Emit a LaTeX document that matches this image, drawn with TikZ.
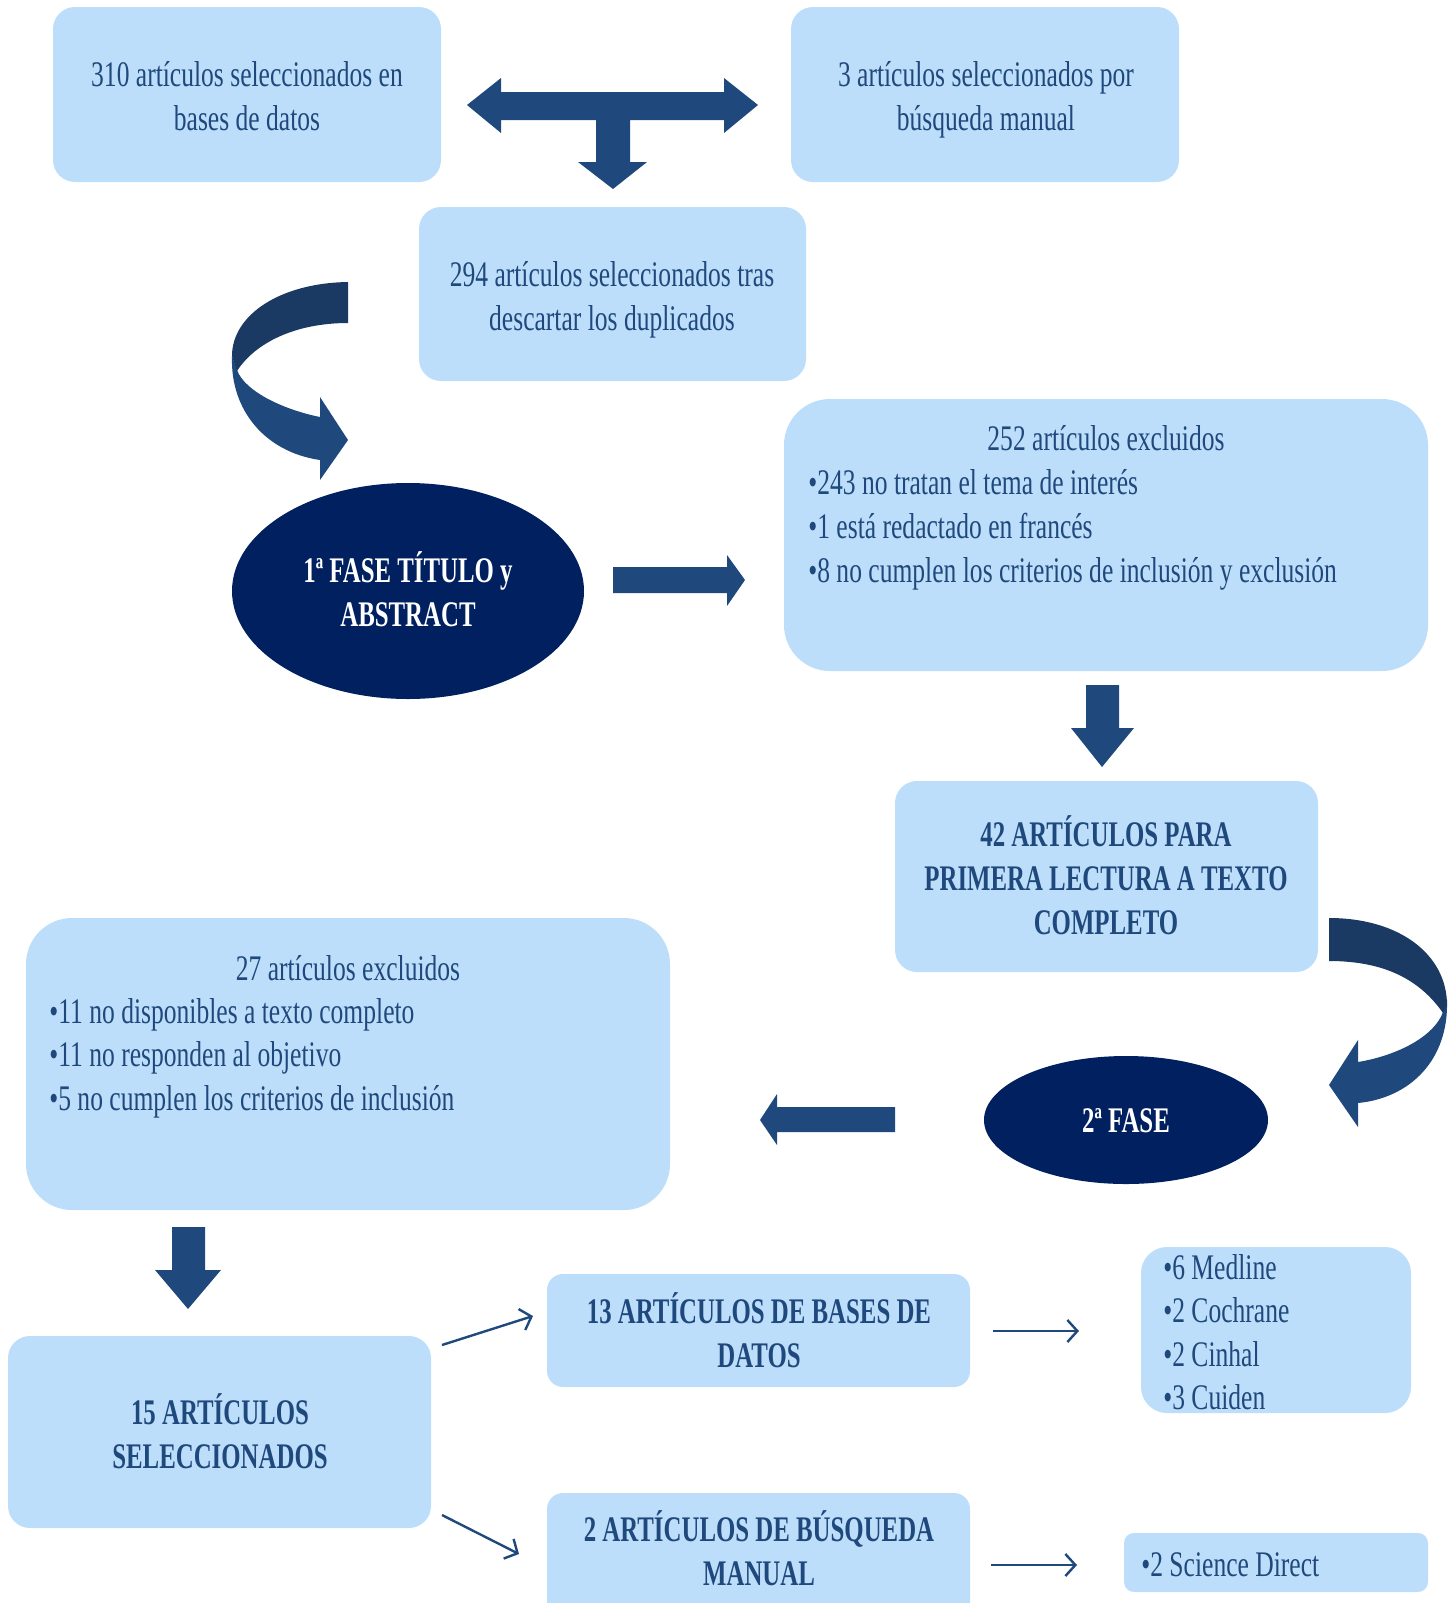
\documentclass[tikz,border=0pt]{standalone}
\usepackage{fontspec}
\setmainfont{Liberation Serif}[FakeStretch=0.71, BoldFeatures={FakeStretch=0.69}]
\usepackage{tikz}
\usetikzlibrary{arrows.meta}
\definecolor{boxblue}{RGB}{189,222,250}
\definecolor{textblue}{RGB}{31,73,125}
\definecolor{navyblue}{RGB}{0,32,96}
\definecolor{arrowblue}{RGB}{31,73,125}
\definecolor{arrowdark}{RGB}{27,58,99}
\tikzset{
	box/.style={fill=boxblue},
	txt/.style={text=textblue, font=\fontsize{18}{22}\selectfont, align=center, inner sep=0pt},
	btxt/.style={txt, font=\fontsize{18}{22}\selectfont\bfseries},
	item/.style={txt, anchor=west, text height=15.5pt, text depth=4pt},
	phase/.style={btxt, text=white},
	thinarrow/.style={draw=arrowblue, line width=1.2pt, -{Straight Barb[length=5pt,width=11pt]}}
}

\begin{document}
\begin{tikzpicture}[x=0.5pt, y=-0.5pt]
					\clip (0,0) rectangle (1454,1603);
					
					\fill[box, rounded corners=11pt] (53,7) rectangle (441,182);
					\node[txt] (b310) at (247,96) {310 artículos seleccionados en\\bases de datos};
					\fill[box, rounded corners=11pt] (791,7) rectangle (1179,182);
					\node[txt] (b3) at (986,100) {3 artículos seleccionados por\\búsqueda manual};
					\fill[box, rounded corners=11pt] (419,207) rectangle (806,381);
					\node[txt] (b294) at (612,300) {294 artículos seleccionados tras\\descartar los duplicados};
					
					\fill[arrowblue] (467,105) -- (501,78) -- (501,92) -- (724,92) -- (724,78) -- (758,105) -- (724,133) -- (724,120) -- (630,120) -- (630,162) -- (647,162) -- (613,189) -- (578,162) -- (596,162) -- (596,120) -- (501,120) -- (501,133) -- cycle;
					
					\fill[arrowblue] (232,356) .. controls (230,410) and (265,452) .. (320,460) -- (320,480) -- (348,440) -- (320,397) -- (320,417) .. controls (285,410) and (245,392) .. (237,370) -- cycle;
					\fill[arrowdark] (348,282) .. controls (280,283) and (232,315) .. (232,356) -- (237,371) .. controls (255,343) and (295,323) .. (348,323) -- cycle;
					
					\fill[navyblue] (408,591) ellipse [x radius=176, y radius=108];
					\node[phase] (e1) at (408,589) {1ª FASE TÍTULO y\\ABSTRACT};
					
					\fill[arrowblue] (613,567) -- (727,567) -- (727,555) -- (745,580) -- (727,606) -- (727,593) -- (613,593) -- cycle;
					
					\fill[box, rounded corners=23pt] (784,399) rectangle (1428,671);
					\node[txt] (b252) at (1106,438) {252 artículos excluidos};
					\node[item] (b252a) at (808,483) {•243 no tratan el tema de interés};
					\node[item] (b252b) at (808,527) {•1 está redactado en francés};
					\node[item] (b252c) at (808,571) {•8 no cumplen los criterios de inclusión y exclusión};
					
					\fill[arrowblue] (1086,685) -- (1119,685) -- (1119,728) -- (1134,728) -- (1102,767) -- (1071,728) -- (1086,728) -- cycle;
					
					\fill[box, rounded corners=11pt] (895,781) rectangle (1318,972);
					\node[btxt] (b42) at (1106,875) {42 ARTÍCULOS PARA\\PRIMERA LECTURA A TEXTO\\COMPLETO};
					
					\fill[arrowblue] (1447,1000) .. controls (1449,1060) and (1410,1098) .. (1358,1103) -- (1358,1127) -- (1329,1085) -- (1358,1040) -- (1358,1062) .. controls (1400,1055) and (1435,1035) .. (1443,1012) -- cycle;
					\fill[arrowdark] (1329,918) .. controls (1400,918) and (1447,955) .. (1447,1005) -- (1443,1013) .. controls (1420,980) and (1385,961) .. (1329,961) -- cycle;
					
					\fill[navyblue] (1126,1120) ellipse [x radius=142, y radius=64];
					\node[phase] (e2) at (1126,1121) {2ª FASE};
					
					\fill[arrowblue] (895,1107) -- (777,1107) -- (777,1094) -- (760,1120) -- (777,1145) -- (777,1132) -- (895,1132) -- cycle;
					
					\fill[box, rounded corners=23pt] (26,918) rectangle (670,1210);
					\node[txt] (b27) at (348,968) {27 artículos excluidos};
					\node[item] (b27a) at (49,1012) {•11 no disponibles\ a texto completo};
					\node[item] (b27b) at (49,1055) {•11 no responden al objetivo};
					\node[item] (b27c) at (49,1099) {•5 no cumplen los criterios de inclusión};
					
					\fill[arrowblue] (172,1227) -- (205,1227) -- (205,1270) -- (221,1270) -- (188,1309) -- (155,1270) -- (172,1270) -- cycle;
					
					\fill[box, rounded corners=11pt] (8,1336) rectangle (431,1528);
					\node[btxt] (b15) at (220,1431) {15 ARTÍCULOS\\SELECCIONADOS};
					\fill[box, rounded corners=8pt] (547,1274) rectangle (970,1387);
					\node[btxt] (b13) at (759,1330) {13 ARTÍCULOS DE BASES DE\\DATOS};
					\fill[box, rounded corners=8pt] (547,1493) rectangle (970,1640);
					\node[btxt] (b2) at (759,1548) {2 ARTÍCULOS DE BÚSQUEDA\\MANUAL};
					
					\fill[box, rounded corners=13pt] (1141,1247) rectangle (1411,1413);
					\node[item] (db1) at (1163,1268) {•6 Medline};
					\node[item] (db2) at (1163,1311) {•2 Cochrane};
					\node[item] (db3) at (1163,1355) {•2 Cinhal};
					\node[item] (db4) at (1163,1398) {•3 Cuiden};
					\fill[box, rounded corners=5pt] (1124,1533) rectangle (1428,1592);
					\node[item] (sd1) at (1141,1565) {•2 Science Direct};
					
					\coordinate (a1s) at (442,1345);
					\coordinate (a1e) at (533,1316);
					\coordinate (a2s) at (442,1515);
					\coordinate (a2e) at (519,1554);
					\coordinate (a3s) at (993,1331);
					\coordinate (a3e) at (1079,1331);
					\coordinate (a4s) at (991,1565);
					\coordinate (a4e) at (1077,1565);
					\draw[thinarrow] (a1s) -- (a1e);
					\draw[thinarrow] (a2s) -- (a2e);
					\draw[thinarrow] (a3s) -- (a3e);
					\draw[thinarrow] (a4s) -- (a4e);
				\end{tikzpicture}
\end{document}
